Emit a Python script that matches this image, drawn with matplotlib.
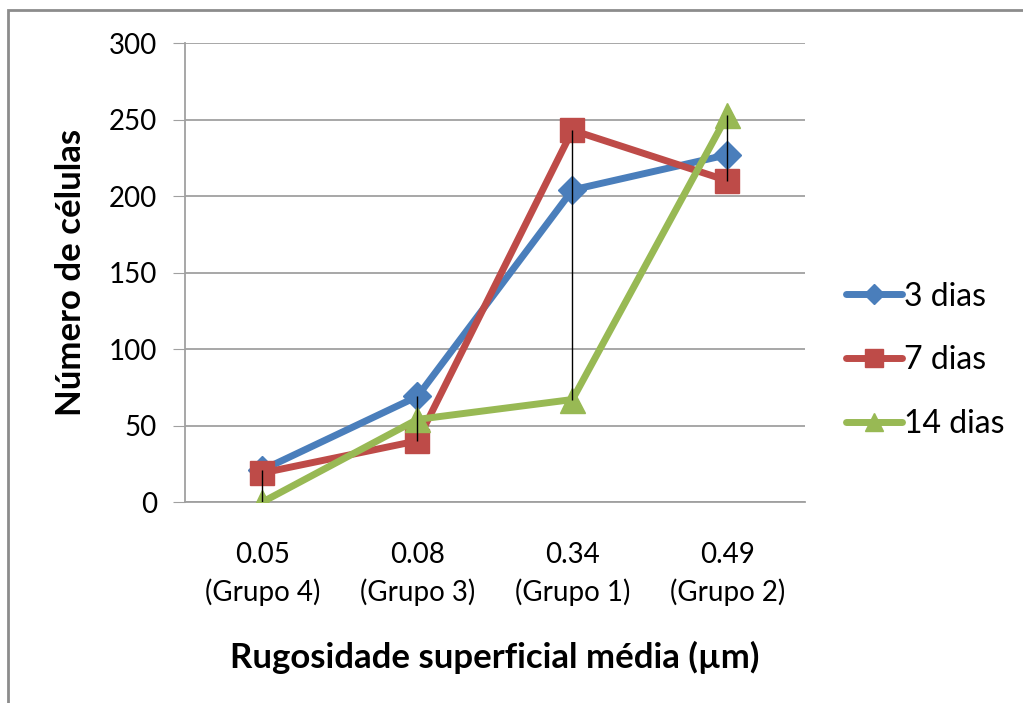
import numpy as np
import matplotlib.pyplot as plt
from matplotlib.patches import Rectangle

# data
categories = ["0.05\n(Grupo 4)", "0.08\n(Grupo 3)", "0.34\n(Grupo 1)", "0.49\n(Grupo 2)"]
series_names = ["3 dias", "7 dias", "14 dias"]
dias3 = [21, 69, 204, 227]
dias7 = [19, 40, 243, 210]
dias14 = [0, 54, 67, 253]

colors = ["#4A7EBB", "#BE4B48", "#98B954"]
markers = ["D", "s", "^"]
msizes = [14, 17, 18]

plt.rcParams["font.family"] = ["Lato", "DejaVu Sans"]

fig = plt.figure(figsize=(10.23, 7.03), dpi=100)
ax = fig.add_axes([0.1808, 0.2859, 0.6061, 0.6529])

x = np.arange(len(categories))
all_series = [dias3, dias7, dias14]
for vals, name, c, m, ms in zip(all_series, series_names, colors, markers, msizes):
    ax.plot(x, vals, color=c, lw=5, marker=m, ms=ms, label=name,
            solid_joinstyle="round", solid_capstyle="round", zorder=3)

# high-low lines between the series at each category
arr = np.array(all_series)
ax.vlines(x, arr.min(axis=0), arr.max(axis=0), color="black", lw=1, zorder=5)

ax.set_xlim(-0.5, 3.5)
ax.set_ylim(0, 300)
ax.set_yticks(np.arange(0, 301, 50))
ax.set_xticks(x)
ax.set_xticklabels(categories, fontsize=20, linespacing=1.45)
ax.tick_params(axis="x", length=0, pad=29)
ax.tick_params(axis="y", labelsize=20, length=9, color="#A0A0A0", pad=11)
ax.grid(axis="y", color="#A0A0A0", lw=1.3)
ax.set_axisbelow(True)
for side in ["top", "right"]:
    ax.spines[side].set_visible(False)
for side in ["left", "bottom"]:
    ax.spines[side].set_color("#A0A0A0")
    ax.spines[side].set_linewidth(1.3)

ax.set_ylabel("Número de células", fontsize=25, fontweight="bold", labelpad=16)
ax.set_xlabel("Rugosidade superficial média (µm)", fontsize=25, fontweight="bold",
              labelpad=25)

ax.legend(loc="center left", bbox_to_anchor=(1.02, 0.309), frameon=False,
          fontsize=23, handlelength=1.75, handletextpad=0.05, labelspacing=1.05,
          markerscale=0.75)

# outer chart-area frame (only top and left edges inside the image)
fig.add_artist(Rectangle((8 / 1023, -0.1), 1.2, 1.1 - 10 / 703,
                         transform=fig.transFigure, fill=False,
                         edgecolor="#8C8C8C", lw=2))

fig.savefig("out.png", dpi=100)
